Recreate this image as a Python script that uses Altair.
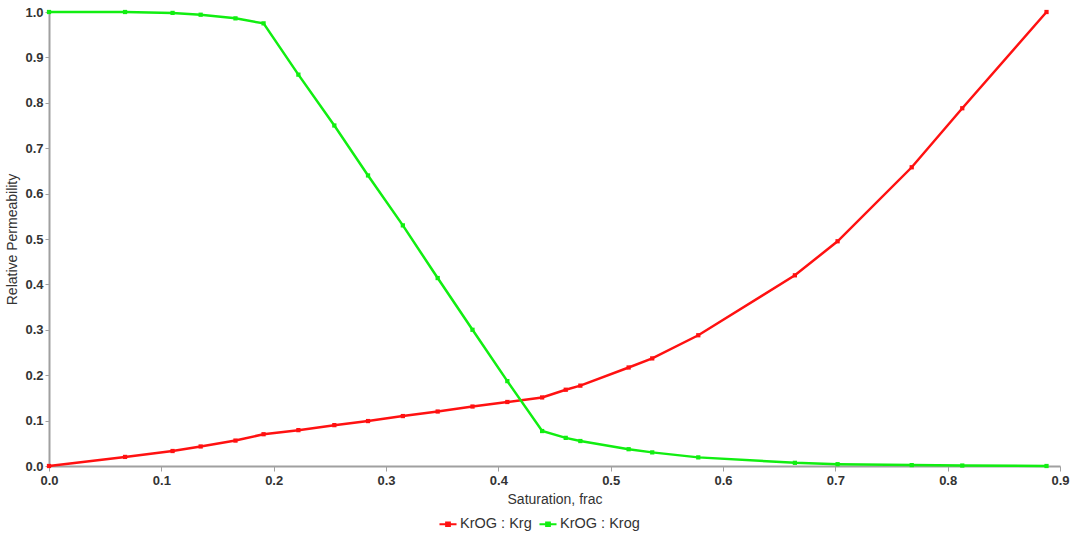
import altair as alt
import pandas as pd

sat = [0.0, 0.0677, 0.11, 0.135, 0.166, 0.191, 0.222, 0.254, 0.284, 0.315, 0.346,
       0.377, 0.408, 0.439, 0.46, 0.473, 0.516, 0.537, 0.578, 0.664, 0.702, 0.768,
       0.813, 0.888]
krg = [0.0, 0.02, 0.033, 0.043, 0.056, 0.07, 0.079, 0.09, 0.099, 0.11, 0.12,
       0.131, 0.141, 0.151, 0.168, 0.177, 0.217, 0.237, 0.288, 0.42, 0.495, 0.658,
       0.788, 1.0]
krog = [1.0, 1.0, 0.998, 0.994, 0.986, 0.975, 0.862, 0.75, 0.64, 0.53, 0.414,
        0.30, 0.187, 0.077, 0.062, 0.055, 0.037, 0.03, 0.019, 0.007, 0.004, 0.002,
        0.001, 0.0]
series = ["KrOG : Krg", "KrOG : Krog"]
colors = ["#ff1111", "#11ee11"]

rows = []
for s, v in zip(sat, krg):
    rows.append({"sat": s, "kr": v, "series": series[0]})
for s, v in zip(sat, krog):
    rows.append({"sat": s, "kr": v, "series": series[1]})
df = pd.DataFrame(rows)

font = "Liberation Sans"

x = alt.X("sat:Q", title="Saturation, frac",
          scale=alt.Scale(domain=[0, 0.9], nice=False, zero=False),
          axis=alt.Axis(values=[i / 10 for i in range(10)], format=".1f", grid=False,
                        domainColor="#a0a0a0", domainWidth=2, tickColor="#a0a0a0",
                        tickSize=5, labelFont=font, labelFontSize=13, labelFontWeight="bold",
                        labelColor="#333333", labelPadding=3, titleFont=font,
                        titleFontSize=14, titleFontWeight="normal", titleColor="#333333",
                        titlePadding=5, labelFlush=False))
y = alt.Y("kr:Q", title="Relative Permeability",
          scale=alt.Scale(domain=[0, 1.0], nice=False),
          axis=alt.Axis(values=[i / 10 for i in range(11)], format=".1f", grid=False,
                        domainColor="#a0a0a0", domainWidth=2, tickColor="#a0a0a0",
                        tickSize=4, labelFont=font, labelFontSize=13, labelFontWeight="bold",
                        labelColor="#333333", labelPadding=2, titleFont=font,
                        titleFontSize=14, titleFontWeight="normal", titleColor="#333333",
                        titlePadding=5, labelFlush=False))
color = alt.Color("series:N", scale=alt.Scale(domain=series, range=colors),
                  legend=alt.Legend(title=None, orient="none", direction="horizontal",
                                    legendX=389, legendY=502,
                                    symbolType="M-1,0L1,0M-0.22,-0.22L0.22,-0.22L0.22,0.22L-0.22,0.22Z",
                                    symbolSize=290, symbolStrokeWidth=2,
                                    labelFont=font, labelFontSize=14.5, labelColor="#333333",
                                    columnPadding=3, symbolOffset=0, labelOffset=2))

base = alt.Chart(df)
lines = base.mark_line(strokeWidth=2.5).encode(x=x, y=y, color=color, detail="series:N")
points = base.mark_point(shape="square", filled=True, size=18, opacity=1).encode(
    x="sat:Q", y="kr:Q", color=color)

chart = (lines + points).properties(
    width=1011, height=454,
    background="white",
    autosize=alt.AutoSizeParams(type="none"),
    padding={"left": 49, "top": 12, "right": 19, "bottom": 67},
).configure_view(stroke=None)

chart.save("out.html", embed_options={"renderer": "svg", "actions": False})
